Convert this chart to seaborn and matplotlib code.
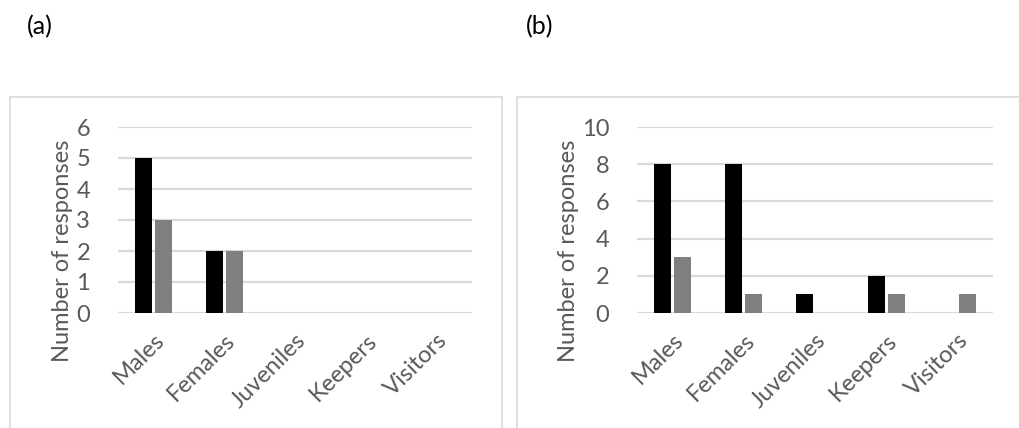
import matplotlib
matplotlib.use("Agg")
import matplotlib.pyplot as plt
import seaborn as sns
import pandas as pd
from matplotlib.patches import Rectangle

categories = ["Males", "Females", "Juveniles", "Keepers", "Visitors"]
series_names = ["Series 1", "Series 2"]

# panel (a)
a_series1 = [5, 2, 0, 0, 0]
a_series2 = [3, 2, 0, 0, 0]
# panel (b)
b_series1 = [8, 8, 1, 2, 0]
b_series2 = [3, 1, 0, 1, 1]

a_yticks = [0, 1, 2, 3, 4, 5, 6]
b_yticks = [0, 2, 4, 6, 8, 10]

sns.set_theme(style="white")
plt.rcParams["font.family"] = ["Lato", "DejaVu Sans"]

TEXT = "#595959"
GRID = "#d9d9d9"
W, H = 1020, 428
FS = 17

fig = plt.figure(figsize=(W / 100, H / 100), dpi=100)


def frame(x0, y0, x1, y1):
    fig.patches.append(Rectangle((x0 / W, 1 - y1 / H), (x1 - x0) / W, (y1 - y0) / H,
                                 transform=fig.transFigure, fill=False,
                                 edgecolor=GRID, linewidth=1.2))


def panel(rect, s1, s2, yticks, label_x, label_y):
    left, top, right, bottom = rect
    ax = fig.add_axes([left / W, 1 - bottom / H, (right - left) / W, (bottom - top) / H])
    df = pd.DataFrame({
        "category": categories * 2,
        "series": [series_names[0]] * len(categories) + [series_names[1]] * len(categories),
        "value": list(s1) + list(s2),
    })
    sns.barplot(data=df, x="category", y="value", hue="series", order=categories,
                hue_order=series_names, palette=["#000000", "#7f7f7f"],
                width=0.565, gap=0.15, ax=ax, legend=False, zorder=3, linewidth=0)
    ax.set_ylim(yticks[0], yticks[-1])
    ax.set_yticks(yticks)
    ax.set_xlim(-0.5, len(categories) - 0.5)
    ax.yaxis.grid(True, color=GRID, linewidth=1.6, zorder=0)
    ax.set_axisbelow(True)
    for s in ax.spines.values():
        s.set_visible(False)
    ax.tick_params(axis="both", length=0, colors=TEXT, labelsize=FS)
    ax.tick_params(axis="y", pad=20)
    ax.tick_params(axis="x", pad=12)
    for lab in ax.get_xticklabels():
        lab.set_rotation(45)
        lab.set_ha("right")
        lab.set_rotation_mode("anchor")
    ax.set_xlabel("")
    ax.set_ylabel("Number of responses", color=TEXT, fontsize=FS)
    # y label centred at fixed figure pixel position
    ax.yaxis.set_label_coords((label_x - left) / (right - left),
                              (bottom - label_y) / (bottom - top))
    ax.yaxis.label.set_va("center")
    ax.set_facecolor("none")
    return ax


frame(10, 97, 502, 440)
frame(517, 97, 1030, 440)

ax_a = panel((118, 127, 472, 313), a_series1, a_series2, a_yticks, 63, 251)
ax_b = panel((637, 127, 993, 313), b_series1, b_series2, b_yticks, 569, 251)

fig.text(27 / W, 1 - 27 / H, "(a)", fontsize=18, color="#000000", va="center", ha="left")
fig.text(526 / W, 1 - 27 / H, "(b)", fontsize=18, color="#000000", va="center", ha="left")

fig.savefig("out.png", dpi=100, facecolor="white")
